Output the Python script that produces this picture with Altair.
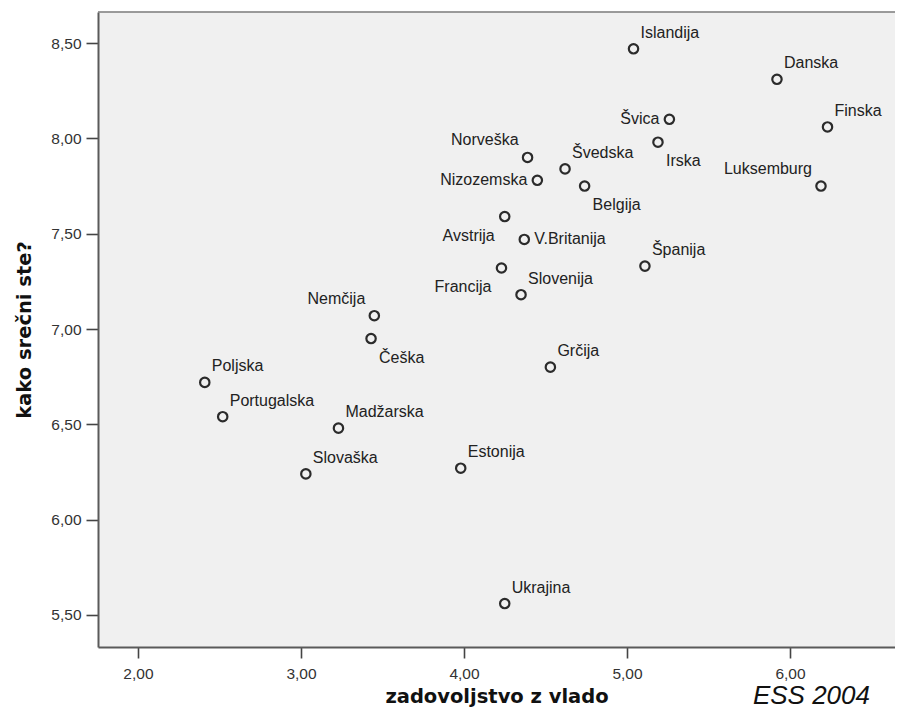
import altair as alt
import pandas as pd

# ---- data ----
countries = ["Islandija", "Danska", "Švica", "Finska", "Irska", "Norveška", "Švedska",
             "Nizozemska", "Belgija", "Luksemburg", "Avstrija", "V.Britanija", "Francija",
             "Slovenija", "Španija", "Nemčija", "Češka", "Poljska", "Portugalska",
             "Madžarska", "Slovaška", "Estonija", "Ukrajina", "Grčija"]
satisfaction = [5.04, 5.92, 5.26, 6.23, 5.19, 4.39, 4.62, 4.45, 4.74, 6.19, 4.25, 4.37,
                4.23, 4.35, 5.11, 3.45, 3.43, 2.41, 2.52, 3.23, 3.03, 3.98, 4.25, 4.53]
happiness = [8.47, 8.31, 8.10, 8.06, 7.98, 7.90, 7.84, 7.78, 7.75, 7.75, 7.59, 7.47,
             7.32, 7.18, 7.33, 7.07, 6.95, 6.72, 6.54, 6.48, 6.24, 6.27, 5.56, 6.80]

x_ticks = [2, 3, 4, 5, 6]
y_ticks = [5.5, 6.0, 6.5, 7.0, 7.5, 8.0, 8.5]
x_domain = [1.755, 6.644]
y_domain = [5.332, 8.663]

# ---- label placement styles ----
placements = {
    "upper_right": dict(align="left", dx=7, dy=-16),
    "upper_left": dict(align="right", dx=-9, dy=-17),
    "left": dict(align="right", dx=-10, dy=0),
    "right": dict(align="left", dx=10, dy=0),
    "lower_right": dict(align="left", dx=8, dy=19),
    "lower_left": dict(align="right", dx=-10, dy=19),
}
label_side = {"Švica": "left", "Irska": "lower_right", "Norveška": "upper_left",
              "Nizozemska": "left", "Belgija": "lower_right", "Luksemburg": "upper_left",
              "Avstrija": "lower_left", "V.Britanija": "right", "Francija": "lower_left",
              "Nemčija": "upper_left", "Češka": "lower_right"}

df = pd.DataFrame({"country": countries, "satisfaction": satisfaction, "happiness": happiness})
df["side"] = [label_side.get(c, "upper_right") for c in countries]

label_expr = "replace(format(datum.value, '.2f'), '.', ',')"

x_enc = alt.X("satisfaction:Q",
              scale=alt.Scale(domain=x_domain, nice=False, zero=False),
              axis=alt.Axis(values=x_ticks, labelExpr=label_expr, title="zadovoljstvo z vlado",
                            tickSize=11, labelPadding=8, titlePadding=6))
y_enc = alt.Y("happiness:Q",
              scale=alt.Scale(domain=y_domain, nice=False, zero=False),
              axis=alt.Axis(values=y_ticks, labelExpr=label_expr, title="kako srečni ste?",
                            tickSize=12, labelPadding=5, titlePadding=16))

base = alt.Chart(df)

points = base.mark_point(shape="circle", filled=False, size=88, strokeWidth=2.2,
                         color="#2b2b2b", opacity=1).encode(x=x_enc, y=y_enc)

# top frame line of the plot area
frame_df = pd.DataFrame({"x1": [x_domain[0]], "x2": [x_domain[1]], "y": [y_domain[1]]})
top_line = alt.Chart(frame_df).mark_rule(color="#7a7a7a", strokeWidth=1.5).encode(
    x=alt.X("x1:Q", scale=alt.Scale(domain=x_domain, nice=False, zero=False)),
    x2="x2:Q",
    y=alt.Y("y:Q", scale=alt.Scale(domain=y_domain, nice=False, zero=False)))

label_layers = []
for side, st in placements.items():
    label_layers.append(
        base.transform_filter(alt.datum.side == side)
        .mark_text(align=st["align"], baseline="middle", dx=st["dx"], dy=st["dy"],
                   font="Liberation Sans", fontSize=16, color="#222222")
        .encode(x=x_enc, y=y_enc, text="country:N")
    )

chart = alt.layer(top_line, points, *label_layers).properties(
    width=797, height=635,
    background="white",
    autosize=alt.AutoSizeParams(type="none"),
    padding={"left": 90, "top": 4, "right": 0, "bottom": 64},
    title=alt.TitleParams("ESS 2004", orient="bottom", anchor="end", frame="group",
                          font="Liberation Sans", fontSize=26, fontStyle="italic",
                          fontWeight="normal", color="#111111", dx=-25, dy=-27),
).configure_view(
    fill="#f0f0f0", stroke="transparent"
).configure_axis(
    grid=False,
    domainColor="#5a5a5a", domainWidth=2,
    tickColor="#444444", tickWidth=1.6,
    labelFont="Liberation Sans", labelFontSize=15.5, labelColor="#333333",
    titleFont="DejaVu Sans", titleFontSize=19.5, titleFontWeight="bold", titleColor="#111111",
)

chart.save("out.html", embed_options={"renderer": "svg", "actions": False})
